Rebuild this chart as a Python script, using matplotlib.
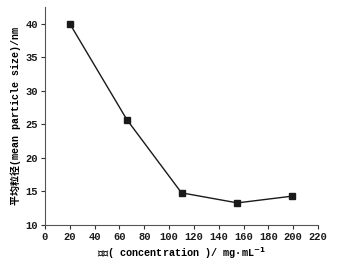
import matplotlib
matplotlib.use('Agg')
import matplotlib.pyplot as plt

# data
conc = [20, 66, 110, 155, 199]
size = [40.0, 25.7, 14.8, 13.3, 14.3]
xticks = list(range(0, 221, 20))
yticks = [10, 15, 20, 25, 30, 35, 40]

FONT = ['Liberation Mono', 'Noto Sans CJK SC', 'DejaVu Sans']
plt.rcParams['font.family'] = FONT
plt.rcParams['font.weight'] = 'bold'
plt.rcParams['mathtext.default'] = 'bf'

fig = plt.figure(figsize=(3.38, 2.66), dpi=100)
ax = fig.add_axes([0.133, 0.154, 0.808, 0.82])

ax.plot(conc, size, color='#1a1a1a', lw=1.0, marker='s', ms=5, mfc='#1a1a1a', mec='#1a1a1a')

ax.set_xlim(0, 220)
ax.set_ylim(10, 42.5)
ax.set_xticks(xticks)
ax.set_yticks(yticks)
ax.tick_params(labelsize=7.5, length=3, width=0.8, colors='#333333', labelcolor='#1a1a1a', pad=2)
for lab in ax.get_xticklabels() + ax.get_yticklabels():
    lab.set_fontweight('bold')
ax.spines[['top', 'right']].set_visible(False)
ax.spines[['left', 'bottom']].set_color('#555555')
ax.spines[['left', 'bottom']].set_linewidth(0.8)

ax.set_xlabel('浓度( concentration )/ mg·mL$^{-1}$', fontsize=7.3, fontweight='bold', labelpad=2)
ax.set_ylabel('平均粒径(mean particle size)/nm', fontsize=7.2, fontweight='bold', labelpad=3)

fig.savefig('out.png', dpi=100)
